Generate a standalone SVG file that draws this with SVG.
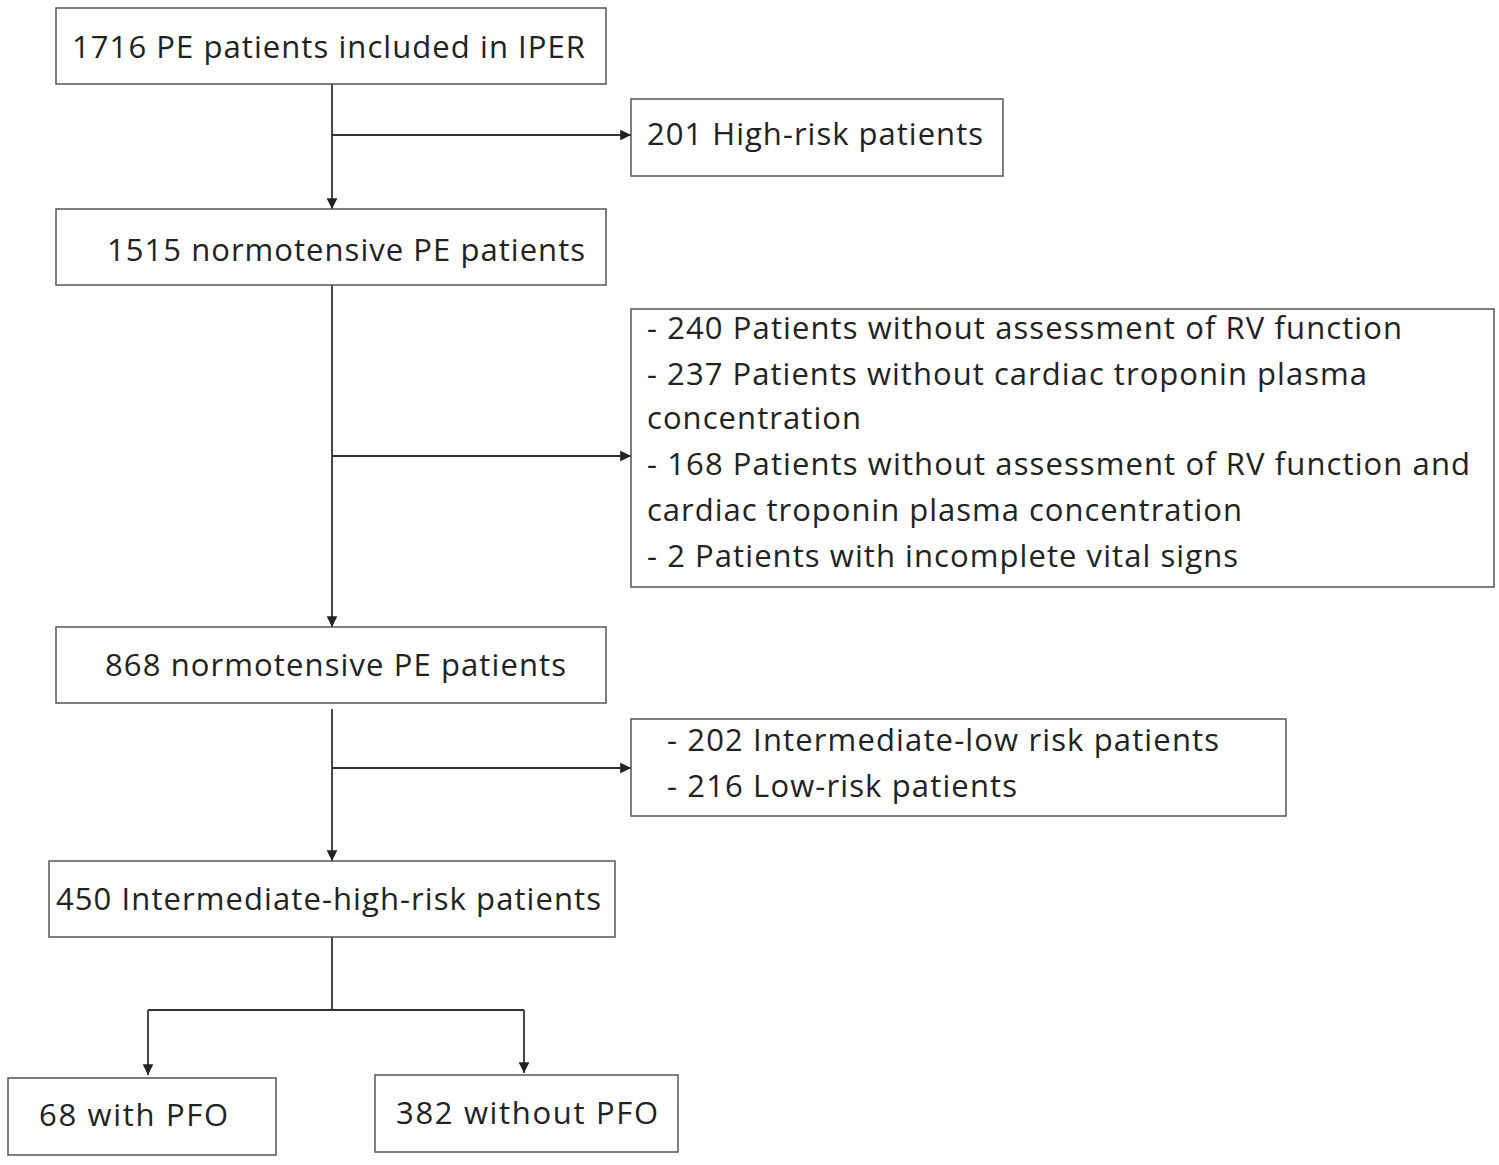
<svg xmlns="http://www.w3.org/2000/svg" width="1499" height="1165" viewBox="0 0 1499 1165">
<style>
.b{fill:#fff;stroke:#555;stroke-width:1.5}
text{font-family:"Open Sans","Liberation Sans",sans-serif;font-size:31px;fill:#222}
.c line{stroke:#333;stroke-width:1.8}
</style>
<defs><marker id="a" viewBox="0 0 10 10" refX="10" refY="5" markerWidth="6" markerHeight="6" orient="auto"><path d="M0,0L10,5L0,10z" fill="#222"/></marker></defs>
<rect width="1499" height="1165" fill="#fff"/>
<g class="c">
<line x1="332" y1="84" x2="332" y2="209" marker-end="url(#a)"/>
<line x1="332" y1="135" x2="631" y2="135" marker-end="url(#a)"/>
<line x1="332" y1="285" x2="332" y2="627" marker-end="url(#a)"/>
<line x1="332" y1="456" x2="631" y2="456" marker-end="url(#a)"/>
<line x1="332" y1="709" x2="332" y2="861" marker-end="url(#a)"/>
<line x1="332" y1="768" x2="631" y2="768" marker-end="url(#a)"/>
<line x1="332" y1="937" x2="332" y2="1010"/>
<line x1="148" y1="1010" x2="524" y2="1010"/>
<line x1="148" y1="1010" x2="148" y2="1075" marker-end="url(#a)"/>
<line x1="524" y1="1010" x2="524" y2="1073" marker-end="url(#a)"/>
</g>
<g id="n1"><rect class="b" x="56" y="8" width="550" height="76"/><text x="72" y="58" textLength="513">1716 PE patients included in IPER</text></g>
<g id="n2"><rect class="b" x="631" y="99" width="372" height="77"/><text x="647" y="145" textLength="336">201 High-risk patients</text></g>
<g id="n3"><rect class="b" x="56" y="209" width="550" height="76"/><text x="107" y="261" textLength="478">1515 normotensive PE patients</text></g>
<g id="n4"><rect class="b" x="631" y="309" width="863" height="278"/>
<text x="647" y="339" textLength="755">- 240 Patients without assessment of RV function</text>
<text x="647" y="385" textLength="720">- 237 Patients without cardiac troponin plasma</text>
<text x="647" y="429" textLength="214">concentration</text>
<text x="647" y="475" textLength="823">- 168 Patients without assessment of RV function and</text>
<text x="647" y="521" textLength="595">cardiac troponin plasma concentration</text>
<text x="647" y="567" textLength="591">- 2 Patients with incomplete vital signs</text></g>
<g id="n5"><rect class="b" x="56" y="627" width="550" height="76"/><text x="105" y="676" textLength="461">868 normotensive PE patients</text></g>
<g id="n6"><rect class="b" x="631" y="719" width="655" height="97"/>
<text x="667" y="751" textLength="552">- 202 Intermediate-low risk patients</text>
<text x="667" y="797" textLength="350">- 216 Low-risk patients</text></g>
<g id="n7"><rect class="b" x="49" y="861" width="566" height="76"/><text x="56" y="910" textLength="545">450 Intermediate-high-risk patients</text></g>
<g id="n8"><rect class="b" x="8" y="1078" width="268" height="77"/><text x="39" y="1126" textLength="189">68 with PFO</text></g>
<g id="n9"><rect class="b" x="375" y="1075" width="303" height="77"/><text x="396" y="1124" textLength="262">382 without PFO</text></g>
</svg>
